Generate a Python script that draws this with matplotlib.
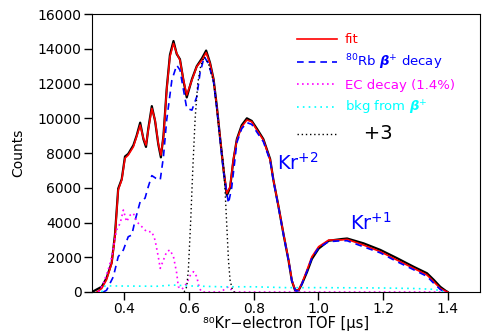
import numpy as np
import matplotlib.pyplot as plt
from matplotlib.lines import Line2D

# fit (red)
fit_x = [0.315, 0.330, 0.345, 0.361, 0.371, 0.381, 0.392, 0.402, 0.412, 0.428, 0.438, 0.449,
         0.459, 0.467, 0.474, 0.485, 0.495, 0.505, 0.513, 0.521, 0.531, 0.541, 0.552, 0.562,
         0.572, 0.583, 0.593, 0.609, 0.624, 0.640, 0.653, 0.665, 0.676, 0.686, 0.696, 0.707,
         0.717, 0.727, 0.737, 0.748, 0.763, 0.779, 0.794, 0.810, 0.830, 0.851, 0.861, 0.877,
         0.892, 0.908, 0.918, 0.928, 0.939, 0.949, 0.965, 0.980, 1.001, 1.032, 1.073, 1.089,
         1.140, 1.192, 1.243, 1.295, 1.336, 1.357, 1.377, 1.393, 1.400]
fit_y = [0, 200, 700, 1650, 3180, 5870, 6450, 7700, 7880, 8360, 8940, 9610,
         8850, 8460, 9320, 10570, 9900, 8560, 7880, 8940, 11630, 13540, 14310, 13740,
         13350, 12200, 11340, 12200, 12970, 13350, 13780, 13160, 12200, 10670, 8940, 7020,
         5680, 6060, 7600, 8750, 9510, 9900, 9800, 9320, 8750, 7600, 6450, 4910,
         3380, 1840, 690, 115, 115, 500, 1270, 2030, 2610, 2990, 3000, 3030,
         2700, 2320, 1840, 1360, 980, 590, 210, 50, 0]

# measured data (black)
data_x = [0.300, 0.315, 0.330, 0.345, 0.361, 0.371, 0.381, 0.392, 0.402, 0.412, 0.428, 0.438, 0.449,
          0.459, 0.467, 0.474, 0.485, 0.495, 0.505, 0.513, 0.521, 0.531, 0.541, 0.552, 0.562,
          0.572, 0.583, 0.593, 0.609, 0.624, 0.640, 0.653, 0.665, 0.676, 0.686, 0.696, 0.707,
          0.717, 0.727, 0.737, 0.748, 0.763, 0.779, 0.794, 0.810, 0.830, 0.851, 0.861, 0.877,
          0.892, 0.908, 0.918, 0.928, 0.939, 0.949, 0.965, 0.980, 1.001, 1.032, 1.073, 1.089,
          1.140, 1.192, 1.243, 1.295, 1.336, 1.357, 1.377, 1.393, 1.400]
data_y = [0, 150, 300, 800, 1700, 3300, 5950, 6500, 7800, 7950, 8450, 9000, 9750,
          8800, 8350, 9400, 10700, 9850, 8500, 7750, 9000, 11700, 13650, 14450, 13700,
          13400, 12150, 11200, 12250, 13000, 13450, 13900, 13200, 12250, 10700, 8900, 7000,
          5550, 6000, 7550, 8800, 9600, 10000, 9850, 9400, 8800, 7650, 6450, 4900,
          3350, 1800, 650, 100, 100, 450, 1150, 1900, 2500, 2950, 3050, 3080,
          2800, 2420, 1950, 1450, 1080, 700, 300, 80, 0]

# 80Rb beta+ decay (blue dashed)
rb_x = [0.335, 0.345, 0.366, 0.381, 0.397, 0.412, 0.423, 0.433, 0.449, 0.464, 0.474, 0.485,
        0.498, 0.511, 0.521, 0.531, 0.547, 0.562, 0.572, 0.583, 0.593, 0.609, 0.624, 0.634,
        0.647, 0.660, 0.676, 0.686, 0.696, 0.707, 0.722, 0.732, 0.748, 0.763, 0.779, 0.794,
        0.810, 0.830, 0.851, 0.861, 0.877, 0.892, 0.908, 0.918, 0.930, 0.939, 0.949, 0.965,
        0.980, 1.001, 1.032, 1.073, 1.089, 1.140, 1.192, 1.243, 1.295, 1.336, 1.357, 1.377, 1.390]
rb_y = [0, 100, 880, 2030, 2420, 3180, 3280, 4100, 5200, 5400, 6060, 6700,
        6540, 6450, 7790, 9900, 12200, 13060, 12780, 11630, 10570, 10470, 11240, 12590,
        13540, 13160, 12100, 10600, 8800, 6900, 5100, 6000, 8600, 9400, 9750, 9650,
        9200, 8650, 7550, 6400, 4850, 3300, 1800, 650, 50, 80, 450, 1200,
        1950, 2550, 2900, 2950, 2950, 2600, 2250, 1750, 1280, 900, 500, 150, 0]

# EC decay (magenta dotted)
ec_x = [0.320, 0.335, 0.350, 0.361, 0.376, 0.387, 0.397, 0.407, 0.418, 0.428, 0.438, 0.454,
        0.469, 0.485, 0.495, 0.505, 0.511, 0.521, 0.531, 0.541, 0.552, 0.562, 0.567, 0.578,
        0.593, 0.605, 0.614, 0.624, 0.632, 0.640, 0.700, 0.715, 0.725, 0.735, 1.400]
ec_y = [0, 500, 1270, 2030, 3570, 3950, 4720, 4050, 4430, 4530, 4050, 3760,
        3470, 3470, 2990, 2030, 1360, 1840, 2320, 2420, 2030, 1080, 300, 150,
        500, 1000, 1170, 880, 210, 0, 0, 250, 300, 0, 0]

# background from beta+ (cyan dotted)
bkg_x = [0.330, 0.340, 0.500, 0.550, 0.600, 0.700, 0.800, 0.900, 1.000, 1.200, 1.300, 1.360, 1.390]
bkg_y = [0, 350, 330, 400, 350, 300, 300, 250, 250, 230, 200, 150, 0]

# +3 charge state (black dotted)
p3_x = [0.585, 0.593, 0.598, 0.605, 0.612, 0.619, 0.627, 0.636, 0.647, 0.660, 0.676, 0.686,
        0.696, 0.707, 0.712, 0.717, 0.722, 0.727, 0.733, 0.740]
p3_y = [0, 300, 1270, 4000, 7200, 10000, 12000, 13000, 13540, 13160, 12100, 10600,
        8800, 7300, 5680, 3760, 1840, 690, 210, 0]

fig = plt.figure(figsize=(4.85, 3.35), dpi=100)
ax = fig.add_axes([0.1897, 0.1284, 0.8, 0.8296])

ax.plot(data_x, data_y, color='black', lw=1.6)
ax.plot(fit_x, fit_y, color='red', lw=1.2)
ax.plot(rb_x, rb_y, color='blue', lw=1.2, ls=(0, (4, 3)))
ax.plot(ec_x, ec_y, color='magenta', lw=1.2, ls=(0, (1, 2)))
ax.plot(bkg_x, bkg_y, color='cyan', lw=1.2, ls=(0, (1, 2.5)))
ax.plot(p3_x, p3_y, color='black', lw=1.0, ls=(0, (1, 2)))

ax.set_xlim(0.3, 1.5)
ax.set_ylim(0, 16000)
ax.set_xticks([0.4, 0.6, 0.8, 1.0, 1.2, 1.4])
ax.set_xticklabels(['0.4', '0.6', '0.8', '1.0', '1.2', '1.4'])
ax.set_yticks(range(0, 16001, 2000))
ax.tick_params(direction='out', length=5.5, width=1, labelsize=10, pad=2, top=False, right=False)
ax.set_ylabel('Counts', fontsize=10, labelpad=9)
ax.set_xlabel('\u2078\u2070Kr\u2212electron TOF [\u03bcs]', fontsize=10.5, labelpad=0)

ax.text(0.873, 7020, r'Kr$^{+2}$', color='blue', fontsize=14)
ax.text(1.099, 3570, r'Kr$^{+1}$', color='blue', fontsize=14)

handles = [
    Line2D([], [], color='red', lw=1.2),
    Line2D([], [], color='blue', lw=1.2, ls=(0, (4, 3))),
    Line2D([], [], color='magenta', lw=1.2, ls=(0, (1, 2))),
    Line2D([], [], color='cyan', lw=1.2, ls=(0, (1, 2.5))),
    Line2D([], [], color='black', lw=1.0, ls=(0, (1, 2))),
]
labels = ['fit', r'$^{80}$Rb $\boldsymbol{\beta}^{+}$ decay', 'EC decay (1.4%)',
          r'bkg from $\boldsymbol{\beta}^{+}$', '   +3']
colors = ['red', 'blue', 'magenta', 'cyan', 'black']
leg = ax.legend(handles, labels, loc='upper left', bbox_to_anchor=(0.515, 0.95),
                frameon=False, fontsize=9.5, handlelength=3.0, handletextpad=0.6,
                labelspacing=0.5, borderaxespad=0)
for t, c in zip(leg.get_texts(), colors):
    t.set_color(c)
leg.get_texts()[-1].set_fontsize(14)

fig.savefig('out.png', dpi=100)
